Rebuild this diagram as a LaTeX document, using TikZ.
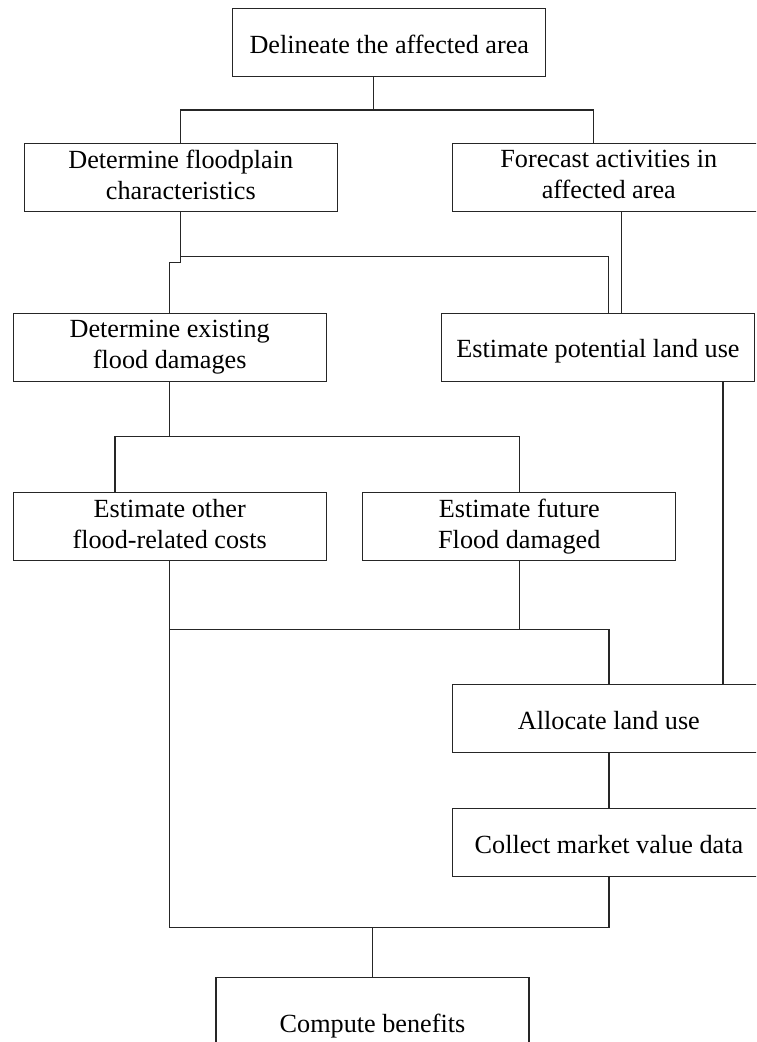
\documentclass[tikz,border=0pt]{standalone}
\usepackage{fontspec}
\setmainfont{Liberation Serif}
\begin{document}
\begin{tikzpicture}[x=1pt,y=-1pt,
  boxbase/.style={draw=black!85, line width=1.2pt, minimum width=313pt, minimum height=68pt,
    inner sep=0pt, align=center, font=\fontsize{26.2}{31}\selectfont},
  box/.style={boxbase, text height=21pt, text depth=0pt},
  boxtwo/.style={boxbase, execute at begin node={\rule{0pt}{30pt}},
    execute at end node={\rule[-6pt]{0pt}{6pt}}},
  wire/.style={draw=black!85, line width=1.2pt}]
\useasboundingbox (0,0) rectangle (756,1042);
\clip (0,0) rectangle (756,1042);
% boxes
\node[box]    (delin)   at (389.3,42.7)  {Delineate the affected area};
\node[boxtwo] (flood)   at (180.8,177.7) {Determine floodplain\\characteristics};
\node[boxtwo] (fore)    at (608.8,177.7) {Forecast activities in\\affected area};
\node[boxtwo] (exist)   at (169.7,347.2) {Determine existing\\flood damages};
\node[box]    (poten)   at (598.0,347.2) {Estimate potential land use};
\node[boxtwo] (other)   at (169.7,526.8) {Estimate other\\flood-related costs};
\node[boxtwo] (future)  at (519.3,526.8) {Estimate future\\Flood damaged};
\node[box]    (alloc)   at (608.9,718.7) {Allocate land use};
\node[box]    (collect) at (608.9,842.7) {Collect market value data};
\node[box, minimum height=88pt] (compute) at (372.5,1021.5) {Compute benefits};
% junction coordinates
\coordinate (j1)  at (373.7,110);
\coordinate (jfr) at (593.3,110);
\coordinate (k2)  at (608.7,256.7);
\coordinate (fx)  at (621.7,0);
\coordinate (m1)  at (115,436.7);
\coordinate (h1)  at (169.7,629.3);
\coordinate (b1)  at (169.7,927.3);
\coordinate (px)  at (723,0);
% connectors
\draw[wire] (delin.south -| j1) -- (j1);
\draw[wire] (flood.north) |- (jfr) -- (fore.north -| jfr);
\draw[wire] (flood.south) -- ++(0,50) -| (exist.north);
\draw[wire] (flood.south |- k2) -- (k2) -- (poten.north -| k2);
\draw[wire] (fore.south -| fx) -- (poten.north -| fx);
\draw[wire] (exist.south) -- (exist.south |- m1);
\draw[wire] (other.north -| m1) -- (m1) -| (future.north);
\draw[wire] (other.south) -- (b1) -| (collect.south);
\draw[wire] (h1) -| (alloc.north);
\draw[wire] (future.south) -- (future.south |- h1);
\draw[wire] (poten.south -| px) -- (alloc.north -| px);
\draw[wire] (alloc.south) -- (collect.north);
\draw[wire] (compute.north) -- (compute.north |- b1);
\end{tikzpicture}
\end{document}
